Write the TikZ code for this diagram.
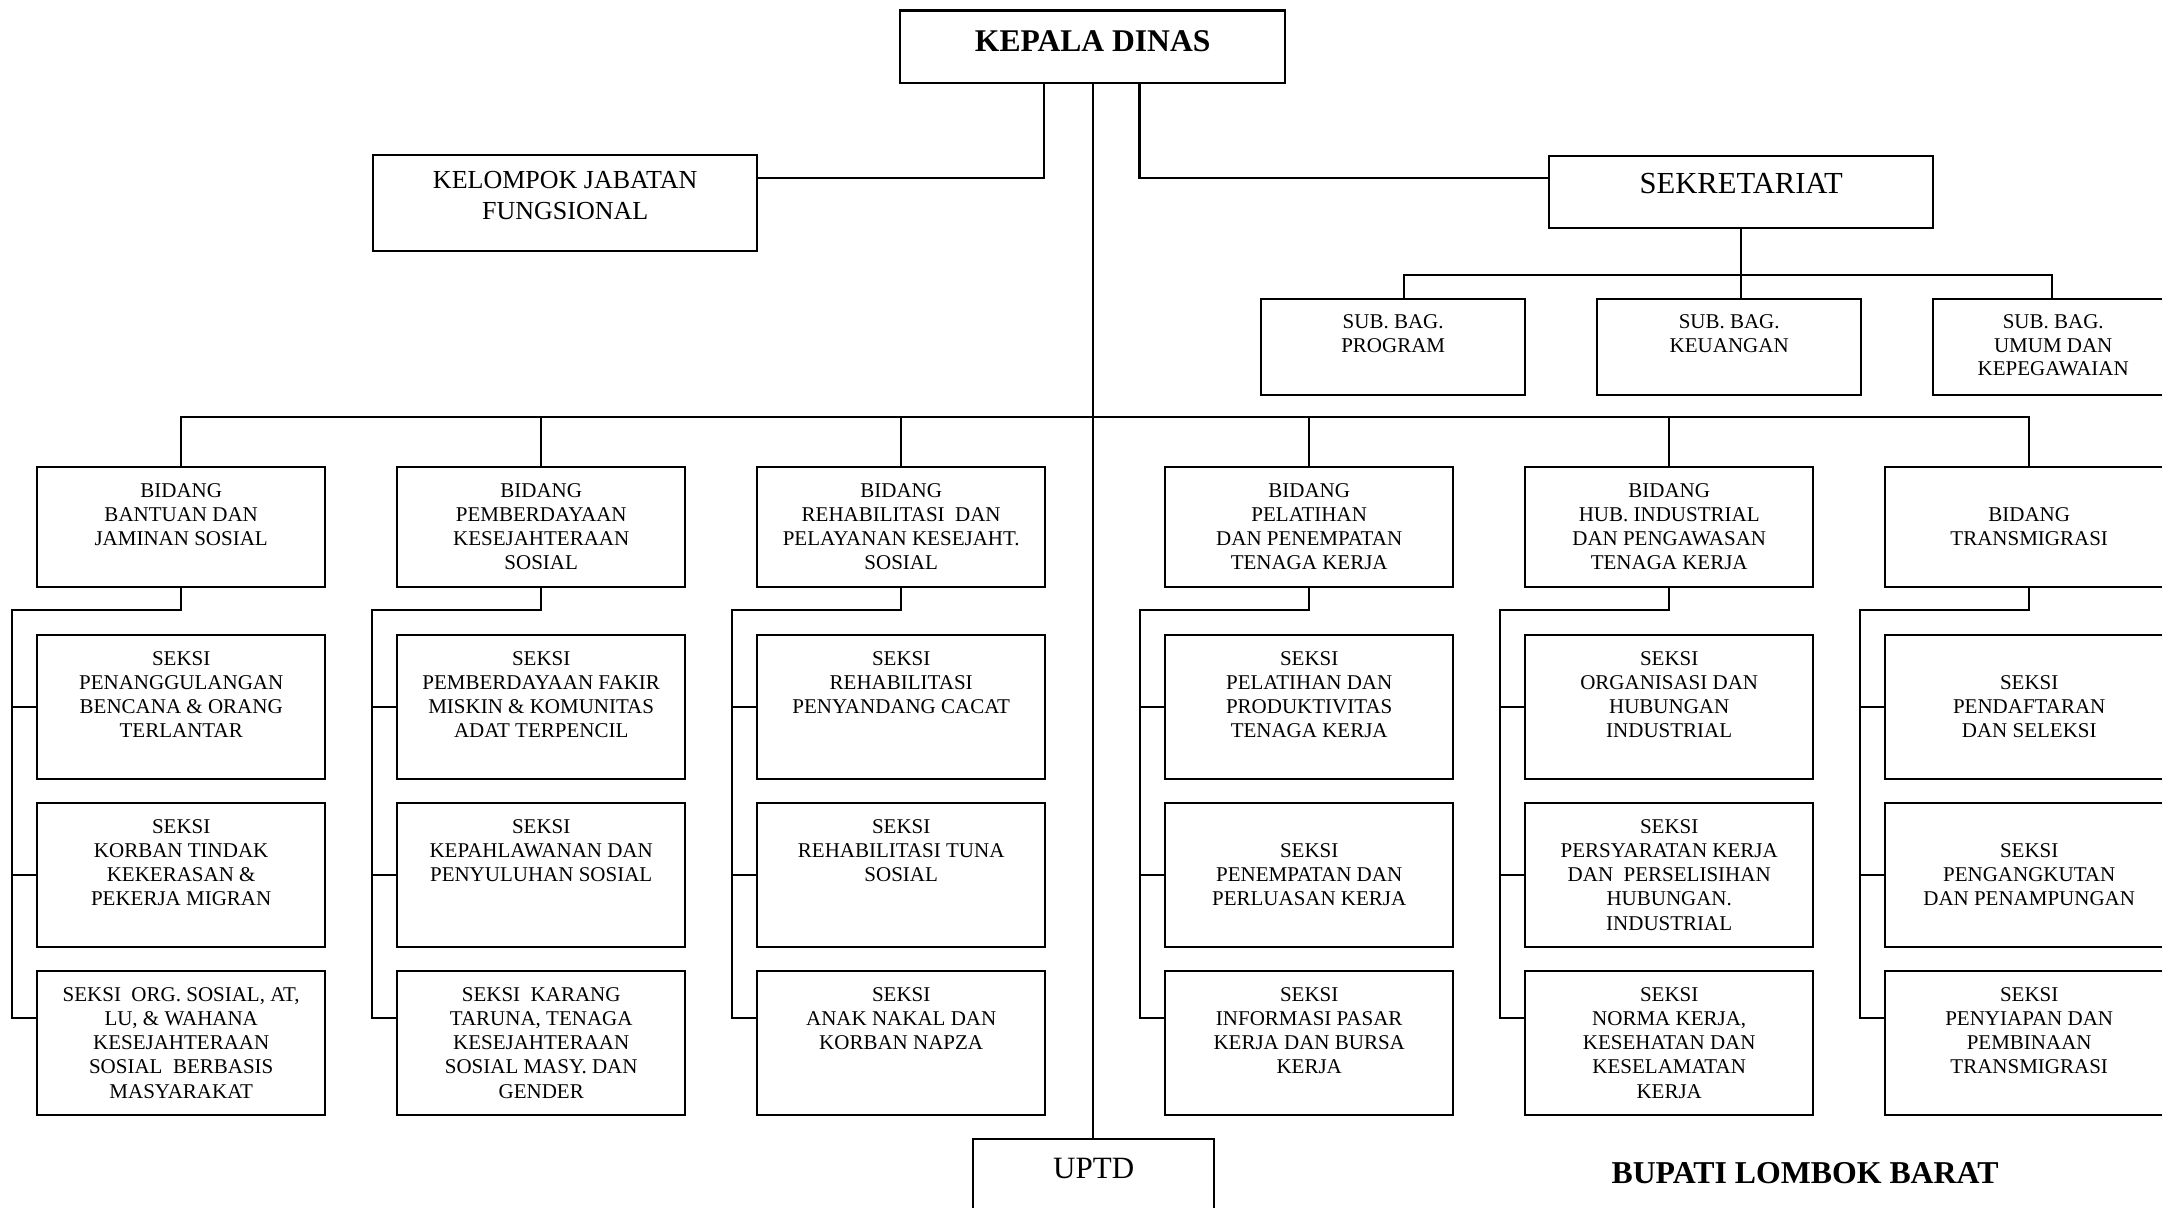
\documentclass[tikz,border=0pt]{standalone}
\usepackage{fontspec}
\setmainfont{Liberation Serif}
\newcommand{\bxt}[6]{\parbox[t][#2][t]{#1}{\centering\fontsize{#3}{#4}\selectfont\rule{0pt}{#5}#6\par}}
\newcommand{\bidbox}[1]{\bxt{144pt}{60pt}{10.5pt}{12.1pt}{14.9pt}{#1}}
\newcommand{\bidboxb}[1]{\bxt{144pt}{60pt}{10.5pt}{12.1pt}{27pt}{#1}}
\newcommand{\seksibox}[1]{\bxt{144pt}{72pt}{10.5pt}{12.1pt}{15pt}{#1}}
\newcommand{\seksiboxb}[1]{\bxt{144pt}{72pt}{10.5pt}{12.1pt}{27.1pt}{#1}}
\newcommand{\sbbox}[2]{\bxt{#1}{48pt}{10.5pt}{11.8pt}{14.8pt}{#2}}
\begin{document}
\begin{tikzpicture}[x=0.5pt,y=-0.5pt,
  bx/.style={draw,line width=1.2pt,inner sep=0pt,anchor=north west},
  ln/.style={line width=1.2pt,line cap=rect},
  thinln/.style={line width=0.8pt}]
\useasboundingbox (0,0) rectangle (2162,1208);
\clip (0,0) rectangle (2162,1208);
% top level
\node[bx] (kd) at (899,9.5) {\bxt{192.5pt}{36.25pt}{15.8pt}{18pt}{20.3pt}{\bfseries KEPALA DINAS}};
\node[bx] (kjf) at (372,154) {\bxt{192pt}{48pt}{13pt}{15.5pt}{16.9pt}{KELOMPOK JABATAN\\FUNGSIONAL}};
\node[bx] (sekr) at (1548,155) {\bxt{192pt}{36pt}{15.3pt}{18pt}{18.7pt}{SEKRETARIAT}};
\node[bx] (sb1) at (1260,298) {\sbbox{132pt}{SUB. BAG.\\PROGRAM}};
\node[bx] (sb2) at (1596,298) {\sbbox{132pt}{SUB. BAG.\\KEUANGAN}};
\node[bx] (sb3) at (1932,298) {\sbbox{120pt}{SUB. BAG.\\UMUM DAN\\KEPEGAWAIAN}};
% bidang
\node[bx] (b1) at (36,466) {\bidbox{BIDANG\\BANTUAN DAN\\JAMINAN SOSIAL}};
\node[bx] (b2) at (396,466) {\bidbox{BIDANG\\PEMBERDAYAAN\\KESEJAHTERAAN\\SOSIAL}};
\node[bx] (b3) at (756,466) {\bidbox{BIDANG\\REHABILITASI\ \ DAN\\PELAYANAN KESEJAHT.\\SOSIAL}};
\node[bx] (b4) at (1164,466) {\bidbox{BIDANG\\PELATIHAN\\DAN PENEMPATAN\\TENAGA KERJA}};
\node[bx] (b5) at (1524,466) {\bidbox{BIDANG\\HUB. INDUSTRIAL\\DAN PENGAWASAN\\TENAGA KERJA}};
\node[bx] (b6) at (1884,466) {\bidboxb{BIDANG\\TRANSMIGRASI}};
% seksi col 1
\node[bx] (s11) at (36,634) {\seksibox{SEKSI\\PENANGGULANGAN\\BENCANA \& ORANG\\TERLANTAR}};
\node[bx] (s12) at (36,802) {\seksibox{SEKSI\\KORBAN TINDAK\\KEKERASAN \&\\PEKERJA MIGRAN}};
\node[bx] (s13) at (36,970) {\seksibox{SEKSI\ \ ORG. SOSIAL, AT,\\LU, \& WAHANA\\KESEJAHTERAAN\\SOSIAL\ \ BERBASIS\\MASYARAKAT}};
% col 2
\node[bx] (s21) at (396,634) {\seksibox{SEKSI\\PEMBERDAYAAN FAKIR\\MISKIN \& KOMUNITAS\\ADAT TERPENCIL}};
\node[bx] (s22) at (396,802) {\seksibox{SEKSI\\KEPAHLAWANAN DAN\\PENYULUHAN SOSIAL}};
\node[bx] (s23) at (396,970) {\seksibox{SEKSI\ \ KARANG\\TARUNA, TENAGA\\KESEJAHTERAAN\\SOSIAL MASY. DAN\\GENDER}};
% col 3
\node[bx] (s31) at (756,634) {\seksibox{SEKSI\\REHABILITASI\\PENYANDANG CACAT}};
\node[bx] (s32) at (756,802) {\seksibox{SEKSI\\REHABILITASI TUNA\\SOSIAL}};
\node[bx] (s33) at (756,970) {\seksibox{SEKSI\\ANAK NAKAL DAN\\KORBAN NAPZA}};
% col 4
\node[bx] (s41) at (1164,634) {\seksibox{SEKSI\\PELATIHAN DAN\\PRODUKTIVITAS\\TENAGA KERJA}};
\node[bx] (s42) at (1164,802) {\seksiboxb{SEKSI\\PENEMPATAN DAN\\PERLUASAN KERJA}};
\node[bx] (s43) at (1164,970) {\seksibox{SEKSI\\INFORMASI PASAR\\KERJA DAN BURSA\\KERJA}};
% col 5
\node[bx] (s51) at (1524,634) {\seksibox{SEKSI\\ORGANISASI DAN\\HUBUNGAN\\INDUSTRIAL}};
\node[bx] (s52) at (1524,802) {\seksibox{SEKSI\\PERSYARATAN KERJA\\DAN\ \ PERSELISIHAN\\HUBUNGAN.\\INDUSTRIAL}};
\node[bx] (s53) at (1524,970) {\seksibox{SEKSI\\NORMA KERJA,\\KESEHATAN DAN\\KESELAMATAN\\KERJA}};
% col 6
\node[bx] (s61) at (1884,634) {\seksiboxb{SEKSI\\PENDAFTARAN\\DAN SELEKSI}};
\node[bx] (s62) at (1884,802) {\seksiboxb{SEKSI\\PENGANGKUTAN\\DAN PENAMPUNGAN}};
\node[bx] (s63) at (1884,970) {\seksibox{SEKSI\\PENYIAPAN DAN\\PEMBINAAN\\TRANSMIGRASI}};
% bottom
\node[bx] (uptd) at (972,1138) {\bxt{120.5pt}{61pt}{15.5pt}{18pt}{19.4pt}{UPTD}};
\node[anchor=base,inner sep=0pt,font=\bfseries\fontsize{15.9pt}{18pt}\selectfont] (bupati) at (1805,1183) {BUPATI LOMBOK BARAT};
% connectors
\draw[thinln] (kd.south) -- (kd.south |- uptd.north);
\draw[ln] (kd.south -| 1044,0) |- (kjf.east |- 0,178);
\draw[ln] (kd.south -| 1139.5,0) |- (sekr.west |- 0,178);
\draw[thinln] (sekr.south) -- (sb2.north -| sekr.south);
\draw[ln] (sb1.north -| 1404,0) -- (1404,275) -- (2052,275) -- (sb3.north -| 2052,0);
\draw[ln] (b1.north |- 0,417) -- (b6.north |- 0,417);
\foreach \i/\X in {1/12,2/372,3/732,4/1140,5/1500,6/1860} {
  \draw[ln] (b\i.north) -- (b\i.north |- 0,417);
  \draw[ln] (b\i.south) -- (b\i.south |- 0,610) -- (\X,610) -- (\X,1018) -- (s\i3.west |- 0,1018);
  \draw[ln] (s\i1.west) -- (s\i1.west -| \X,0);
  \draw[ln] (s\i2.west) -- (s\i2.west -| \X,0);
}
\end{tikzpicture}
\end{document}
